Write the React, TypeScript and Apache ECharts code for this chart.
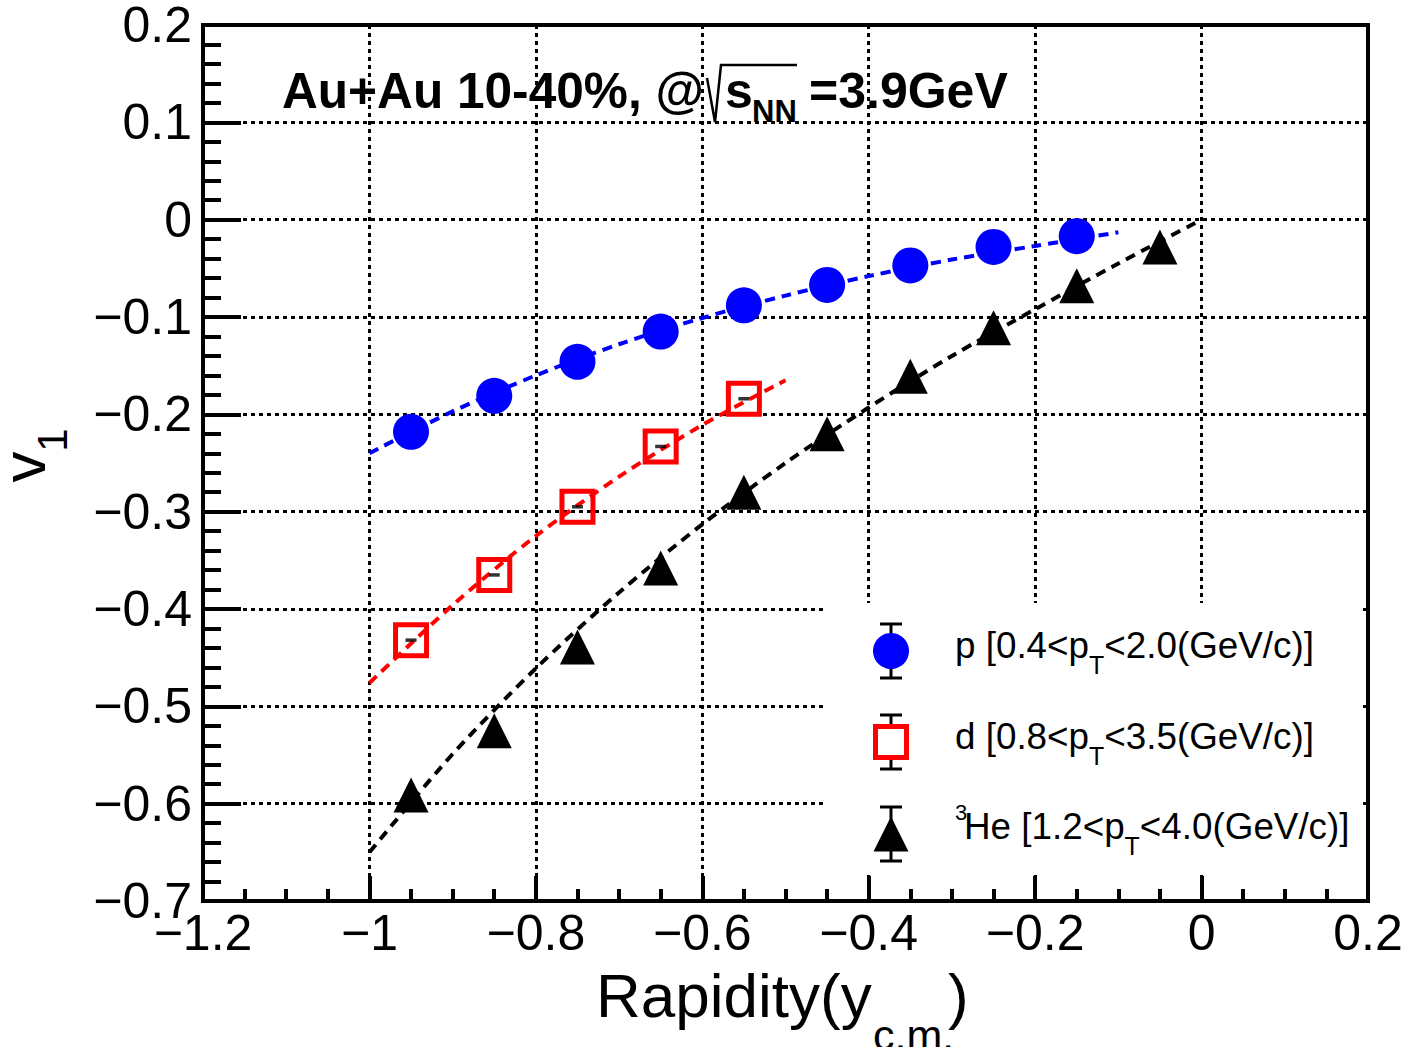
import React, { useEffect, useRef } from "react";
import * as echarts from "echarts";

// ---- data ----
const RAPIDITY_P = [-0.95, -0.85, -0.75, -0.65, -0.55, -0.45, -0.35, -0.25, -0.15];
const PROTON_V1 = [-0.218, -0.181, -0.146, -0.115, -0.088, -0.067, -0.047, -0.028, -0.017];

const RAPIDITY_D = [-0.95, -0.85, -0.75, -0.65, -0.55];
const DEUTERON_V1 = [-0.432, -0.365, -0.295, -0.233, -0.184];

const RAPIDITY_HE = [-0.95, -0.85, -0.75, -0.65, -0.55, -0.45, -0.35, -0.25, -0.15, -0.05];
const HE3_V1 = [-0.591, -0.525, -0.439, -0.358, -0.280, -0.220, -0.161, -0.111, -0.068, -0.028];

// dashed fit curves, read at steps of 0.1 in rapidity
const FIT_X_P = [-1.0, -0.9, -0.8, -0.7, -0.6, -0.5, -0.4, -0.3, -0.2, -0.1];
const FIT_P = [-0.240, -0.197, -0.160, -0.128, -0.101, -0.078, -0.058, -0.041, -0.027, -0.013];
const FIT_X_D = [-1.0, -0.9, -0.8, -0.7, -0.6, -0.5];
const FIT_D = [-0.476, -0.396, -0.325, -0.264, -0.211, -0.165];
const FIT_X_HE = [-1.0, -0.9, -0.8, -0.7, -0.6, -0.5, -0.4, -0.3, -0.2, -0.1, 0.0];
const FIT_HE = [-0.650, -0.549, -0.461, -0.383, -0.313, -0.250, -0.193, -0.140, -0.092, -0.045, 0.0];

const X_TICKS = [-1.2, -1.0, -0.8, -0.6, -0.4, -0.2, 0.0, 0.2];
const Y_TICKS = [-0.7, -0.6, -0.5, -0.4, -0.3, -0.2, -0.1, 0.0, 0.1, 0.2];

const LEGEND_MAIN = ["p [0.4<p", "d [0.8<p", "He [1.2<p"];
const LEGEND_TAIL = ["<2.0(GeV/c)]", "<3.5(GeV/c)]", "<4.0(GeV/c)]"];

const FONT = '"Liberation Sans", Arial, sans-serif';

function fmt(v: number): string {
  const r = Math.round(v * 10) / 10;
  return r < 0 ? "\u2212" + String(-r) : String(Math.abs(r));
}

function pairs(xs: number[], ys: number[]) {
  return xs.map((x, i) => [x, ys[i]]);
}

function txt(
  text: string,
  x: number,
  y: number,
  size: number,
  opts: { bold?: boolean; align?: string; rotation?: number } = {}
) {
  return {
    type: "text",
    x,
    y,
    rotation: opts.rotation || 0,
    z: 20,
    style: {
      text,
      fill: "#000",
      fontSize: size,
      fontFamily: FONT,
      fontWeight: opts.bold ? "bold" : "normal",
      align: opts.align || "left",
      textAlign: opts.align || "left",
      verticalAlign: "middle",
      textVerticalAlign: "middle",
    },
  };
}

// baseline -> middle y conversion for "central" baseline
const mid = (baseline: number, size: number) => baseline - 0.3465 * size;

export default function App() {
  const ref = useRef<HTMLDivElement>(null);

  useEffect(() => {
    const chart = echarts.init(ref.current!, null, { renderer: "svg" });

    const axisCommon = {
      type: "value",
      axisLine: { show: true, onZero: false, lineStyle: { color: "#000", width: 4 } },
      splitLine: { show: true, lineStyle: { color: "#000", width: 3, type: [4, 4] } },
      axisLabel: {
        color: "#000",
        fontSize: 50,
        fontFamily: FONT,
        formatter: fmt,
        showMinLabel: true,
        showMaxLabel: true,
      },
    };

    const lx = 891; // legend marker x
    const rows = [651, 742, 834];
    const baselines = [658, 749, 839];
    const legendText: any[] = [];
    const fsL = 36.8;
    const mainWidths = [3.642, 3.642, 4.364];
    const startX = [955, 955, 964];
    rows.forEach((_, i) => {
      const bx = startX[i];
      const bl = baselines[i];
      legendText.push(txt(LEGEND_MAIN[i], bx, mid(bl, fsL), fsL));
      const tx = bx + mainWidths[i] * fsL;
      legendText.push(txt("T", tx, mid(bl + 16, 25), 25));
      legendText.push(txt(LEGEND_TAIL[i], tx + 0.611 * 25, mid(bl, fsL), fsL));
    });
    legendText.push(txt("3", 955, mid(820, 22), 22));

    const errBar = (cy: number, half: number) => [
      { type: "line", z: 19, shape: { x1: lx, y1: cy - half, x2: lx, y2: cy + half }, style: { stroke: "#000", lineWidth: 3 } },
      { type: "line", z: 19, shape: { x1: lx - 11, y1: cy - half, x2: lx + 11, y2: cy - half }, style: { stroke: "#000", lineWidth: 3 } },
      { type: "line", z: 19, shape: { x1: lx - 11, y1: cy + half, x2: lx + 11, y2: cy + half }, style: { stroke: "#000", lineWidth: 3 } },
    ];

    const option: any = {
      animation: false,
      backgroundColor: "#fff",
      grid: {
        left: 203,
        top: 22,
        width: 1165,
        height: 879,
        show: true,
        borderColor: "#000",
        borderWidth: 4,
        backgroundColor: "#fff",
        containLabel: false,
      },
      xAxis: {
        ...axisCommon,
        min: X_TICKS[0],
        max: X_TICKS[X_TICKS.length - 1],
        interval: 0.2,
        axisTick: { show: true, inside: true, length: 25, lineStyle: { color: "#000", width: 4 } },
        minorTick: { show: true, splitNumber: 4, length: 12, lineStyle: { color: "#000", width: 4 } },
        axisLabel: { ...axisCommon.axisLabel, margin: 7 },
      },
      yAxis: {
        ...axisCommon,
        min: Y_TICKS[0],
        max: Y_TICKS[Y_TICKS.length - 1],
        interval: 0.1,
        axisTick: { show: true, inside: true, length: 38, lineStyle: { color: "#000", width: 4 } },
        minorTick: { show: true, splitNumber: 5, length: 18, lineStyle: { color: "#000", width: 4 } },
        axisLabel: { ...axisCommon.axisLabel, margin: 11 },
      },
      series: [
        {
          type: "scatter",
          name: "p",
          data: pairs(RAPIDITY_P, PROTON_V1),
          symbol: "circle",
          symbolSize: 36,
          itemStyle: { color: "#0000ff", opacity: 1 },
          z: 2,
        },
        {
          type: "scatter",
          name: "d",
          data: pairs(RAPIDITY_D, DEUTERON_V1),
          symbol: "rect",
          symbolSize: 31,
          itemStyle: { color: "rgba(0,0,0,0)", borderColor: "#ff0000", borderWidth: 5, opacity: 1 },
          z: 2,
        },
        {
          type: "scatter",
          name: "3He",
          data: pairs(RAPIDITY_HE, HE3_V1),
          symbol: "triangle",
          symbolSize: 35,
          itemStyle: { color: "#000", opacity: 1 },
          z: 2,
        },
        {
          type: "line",
          data: pairs(FIT_X_P, FIT_P),
          showSymbol: false,
          symbol: "none",
          smooth: 0.3,
          lineStyle: { color: "#0000ff", width: 4, type: [10, 7] },
          z: 3,
        },
        {
          type: "line",
          data: pairs(FIT_X_D, FIT_D),
          showSymbol: false,
          symbol: "none",
          smooth: 0.3,
          lineStyle: { color: "#ff0000", width: 4, type: [10, 7] },
          z: 3,
        },
        {
          type: "line",
          data: pairs(FIT_X_HE, FIT_HE),
          showSymbol: false,
          symbol: "none",
          smooth: 0.3,
          lineStyle: { color: "#000", width: 4, type: [10, 7] },
          z: 3,
        },
        {
          // small error-bar caps visible inside the open squares
          type: "scatter",
          data: pairs(RAPIDITY_D, DEUTERON_V1),
          symbol: "rect",
          symbolSize: [11, 3.5],
          itemStyle: { color: "#000" },
          z: 4,
        },
      ],
      graphic: [
        // legend box (white, no border)
        { type: "rect", z: 10, shape: { x: 825, y: 603, width: 535, height: 272 }, style: { fill: "#fff" } },
        ...errBar(rows[0], 27),
        { type: "circle", z: 20, shape: { cx: lx, cy: rows[0], r: 18 }, style: { fill: "#0000ff" } },
        ...errBar(rows[1], 27),
        { type: "rect", z: 20, shape: { x: lx - 15.5, y: rows[1] - 15.5, width: 31, height: 31 }, style: { fill: "#fff", stroke: "#ff0000", lineWidth: 5 } },
        ...errBar(rows[2], 27),
        { type: "polygon", z: 20, shape: { points: [[lx, rows[2] - 17.5], [lx - 17.5, rows[2] + 17.5], [lx + 17.5, rows[2] + 17.5]] }, style: { fill: "#000" } },
        ...legendText,
        // header
        txt("Au+Au 10-40%, @", 282, mid(108, 49.6), 49.6, { bold: true }),
        { type: "polyline", z: 20, shape: { points: [[707, 78], [715, 122], [721, 65], [797, 65]] }, style: { stroke: "#000", lineWidth: 2.5, fill: null } },
        txt("s", 725, mid(108, 50), 50, { bold: true }),
        txt("NN", 752, mid(122, 31), 31, { bold: true }),
        txt("=3.9GeV", 809, mid(108, 50), 50, { bold: true }),
        // x axis title
        txt("Rapidity(y", 596, mid(1017, 62), 62),
        txt("c.m.", 873, mid(1050, 43), 43),
        txt(")", 948, mid(1017, 62), 62),
        // y axis title (rotated)
        txt("v", 45 - 0.3465 * 62, 467, 62, { align: "center", rotation: Math.PI / 2 }),
        txt("1", 67 - 0.3465 * 42, 440, 42, { align: "center", rotation: Math.PI / 2 }),
      ],
    };

    chart.setOption(option);
    return () => chart.dispose();
  }, []);

  return (
    <div
      ref={ref}
      style={{ position: "fixed", left: 0, top: 0, width: 1409, height: 1047, background: "#fff" }}
    />
  );
}
